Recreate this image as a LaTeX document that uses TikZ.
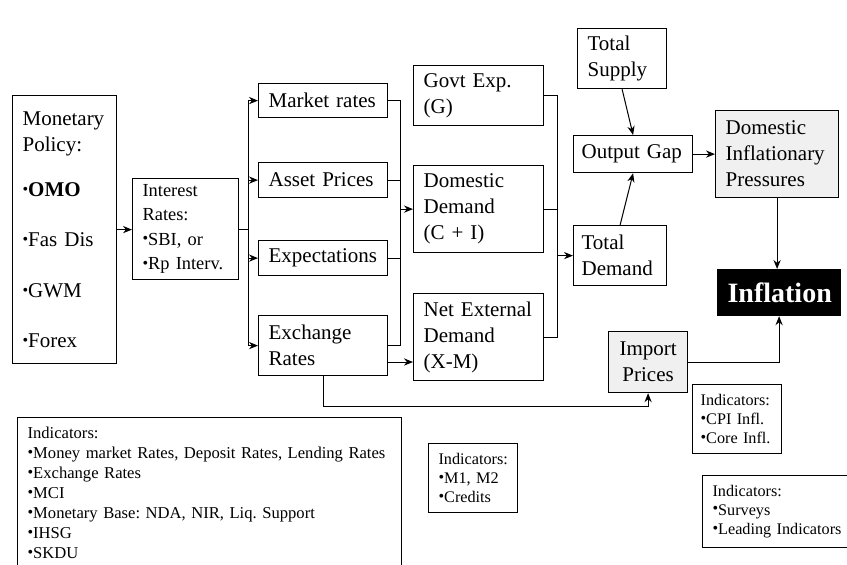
\documentclass[tikz,border=0pt]{standalone}
\usepackage{fontspec}
\setmainfont{Liberation Serif}
\usepackage{tikz}
\usetikzlibrary{arrows, arrows.meta, positioning}
\frenchspacing
\newcommand{\boxfont}{\fontsize{10.5}{13}\selectfont}
\newcommand{\ratefont}{\fontsize{9.2}{12.2}\selectfont}
\newcommand{\indfont}{\fontsize{8.1}{9.6}\selectfont}
\newcommand{\listfont}{\fontsize{8.3}{10}\selectfont}
\newcommand{\bul}{\raisebox{0.2ex}{\footnotesize\textbullet}}
\tikzstyle{chan} = [rectangle, draw, line width=0.6pt, anchor=north west, align=left, inner xsep=5pt, inner ysep=1pt, font=\boxfont]
\tikzstyle{indbox} = [chan, font=\indfont]
\tikzstyle{line} = [line width=0.5pt]
\tikzstyle{arrow} = [line, ->, >={Stealth[length=4.5pt, width=3.6pt]}]

\begin{document}
\begin{tikzpicture}[x=0.5pt, y=-0.5pt]
    \useasboundingbox (0,0) rectangle (847,564);
    \clip (0,0) rectangle (847,564);

    % policy and operational target
    \node (mp) [chan, text width=42pt, minimum height=134pt] at (12,95) {Monetary\\Policy:\\[9.5pt]\bul\textbf{OMO}\\[12pt]\bul Fas Dis\\[12.5pt]\bul GWM\\[12pt]\bul Forex};
    \node (ir) [chan, font=\ratefont, text width=43pt, minimum height=50.5pt] at (132,178) {Interest\\Rates:\\\bul SBI, or\\\bul Rp Interv.};

    % transmission channels
    \node (mkt) [chan, text width=54.5pt, minimum height=17pt] at (258,83) {Market rates};
    \node (ast) [chan, text width=54.5pt, minimum height=17.5pt] at (258,162) {Asset Prices};
    \node (exp) [chan, text width=54.5pt, minimum height=17.5pt] at (258,240) {Expectations};
    \node (exr) [chan, text width=54.5pt, minimum height=30pt] at (258,315) {Exchange\\Rates};

    % demand components
    \node (gov) [chan, text width=55pt, minimum height=30pt] at (413,65) {Govt Exp.\\(G)};
    \node (dd) [chan, text width=55pt, minimum height=43.5pt] at (413,165) {Domestic\\Demand\\(C + I)};
    \node (ned) [chan, text width=55pt, minimum height=43.5pt] at (413,293) {Net External\\Demand\\(X-M)};

    % gap and prices
    \node (ts) [chan, text width=34.5pt, minimum height=30pt] at (577,28) {Total\\Supply};
    \node (og) [chan, inner xsep=4pt, text width=51.5pt, minimum height=18.5pt] at (573,135) {Output Gap};
    \node (td) [chan, inner xsep=4pt, text width=38.5pt, minimum height=30pt] at (573,225) {Total\\Demand};
    \node (dip) [chan, fill=gray!12, text width=51.5pt, minimum height=43.5pt] at (715,110) {Domestic\\Inflationary\\Pressures};
    \node (infl) [chan, fill=black, text=white, align=center, text width=51.5pt, minimum height=23pt, font=\fontsize{14}{16}\selectfont\bfseries] at (717,269) {Inflation};
    \node (imp) [chan, fill=gray!12, align=center, inner xsep=3pt, text width=33.5pt, minimum height=30.5pt] at (608,331) {Import\\Prices};

    % indicators
    \node (ind) [chan, font=\listfont, text width=182pt, minimum height=75.5pt] at (17,417) {Indicators:\\\bul Money market Rates, Deposit Rates, Lending Rates\\\bul Exchange Rates\\\bul MCI\\\bul Monetary Base: NDA, NIR, Liq. Support\\\bul IHSG\\\bul SKDU};
    \node (mon) [indbox, text width=34.5pt, minimum height=34.5pt] at (428,443) {Indicators:\\\bul M1, M2\\\bul Credits};
    \node (cpi) [indbox, inner xsep=4pt, text width=36.5pt, minimum height=34.5pt] at (692,384) {Indicators:\\\bul CPI Infl.\\\bul Core Infl.};
    \node (svy) [indbox, text width=69pt, minimum height=36pt] at (702,475) {Indicators:\\\bul Surveys\\\bul Leading Indicators};

    % bus points
    \coordinate (spl) at (248,229);
    \coordinate (mrg) at (400,208);
    \coordinate (agg) at (557,255);
    \coordinate (exout) at (387,362);

    \draw [arrow] (mp.east) -- (mp.east -| ir.west);
    \draw [line] (ir.east) -- (ir.east -| spl);
    \draw [line] (mkt.west -| spl) -- (exr.west -| spl);
    \draw [arrow] (mkt.west -| spl) -- (mkt.west);
    \draw [arrow] (ast.west -| spl) -- (ast.west);
    \draw [arrow] (exp.west -| spl) -- (exp.west);
    \draw [arrow] (exr.west -| spl) -- (exr.west);

    \draw [line] (mkt.east) -- (mkt.east -| mrg) -- (exr.east -| mrg) -- (exr.east);
    \draw [line] (ast.east) -- (ast.east -| mrg);
    \draw [line] (exp.east) -- (exp.east -| mrg);
    \draw [arrow] (dd.west -| mrg) -- (dd.west);
    \draw [arrow] (exout) -- (exout -| ned.west);

    \draw [line] (gov.east) -- (gov.east -| agg) -- (ned.east -| agg) -- (ned.east);
    \draw [line] (dd.east) -- (dd.east -| agg);
    \draw [arrow] (td.west -| agg) -- (td.west);

    \draw [arrow] (ts.south) -- (og.north);
    \draw [arrow] (td.north) -- (og.south);
    \draw [arrow] (og) -- (dip);
    \draw [arrow] (dip.south) -- (dip.south |- infl.north);
    \draw [arrow] (imp.east) -| (infl.south);
    \draw [arrow] (exr.south) -- ++(0,30) -| (imp.south);

\end{tikzpicture}
\end{document}
